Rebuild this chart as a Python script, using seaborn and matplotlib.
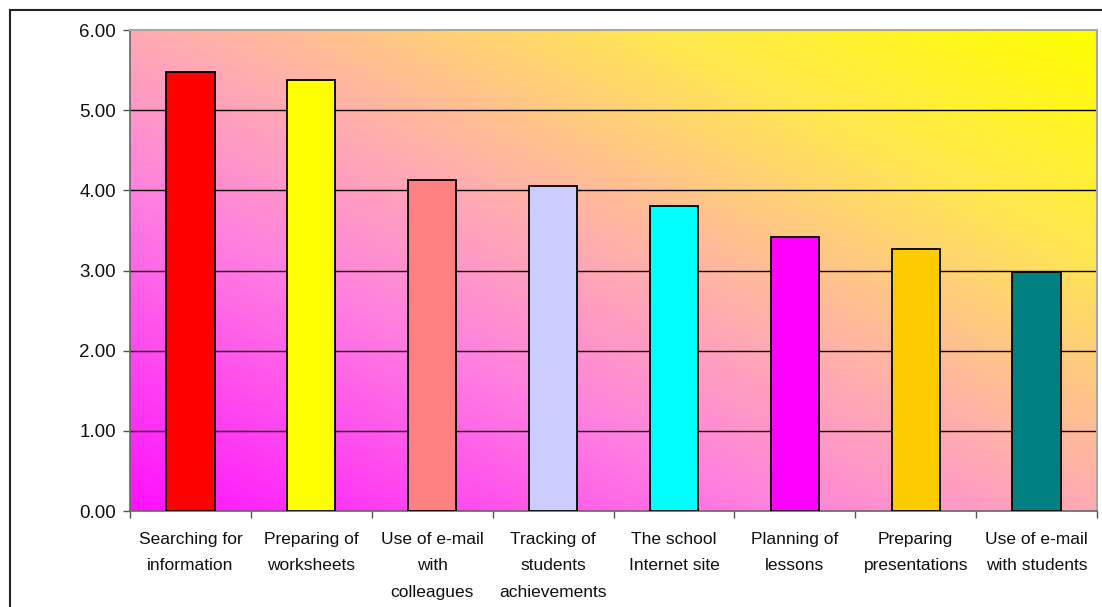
import numpy as np
import matplotlib
matplotlib.use('Agg')
import matplotlib.pyplot as plt
import seaborn as sns
from matplotlib.colors import LinearSegmentedColormap
from matplotlib.patches import Rectangle

sns.set_theme(style="white")
plt.rcParams['font.family'] = ['Liberation Sans', 'DejaVu Sans']

# data
categorias = [
    "Searching for\ninformation",
    "Preparing of\nworksheets",
    "Use of e-mail\nwith\ncolleagues",
    "Tracking of\nstudents\nachievements",
    "The school\nInternet site",
    "Planning of\nlessons",
    "Preparing\npresentations",
    "Use of e-mail\nwith students",
]
valores = [5.47, 5.38, 4.13, 4.06, 3.80, 3.42, 3.27, 2.98]
cores = ["#FF0000", "#FFFF00", "#FF8080", "#CCCCFF",
         "#00FFFF", "#FF00FF", "#FFCC00", "#008080"]
y_ticks = [0, 1, 2, 3, 4, 5, 6]

fig = plt.figure(figsize=(11.02, 6.07), dpi=100)
fig.patch.set_facecolor("white")
ax = fig.add_axes([130 / 1102, 96 / 607, 967 / 1102, 481 / 607])

# fundo em degradê diagonal (magenta -> rosa -> amarelo)
fundo = LinearSegmentedColormap.from_list(
    "fundo",
    [(0.0, "#FF10FF"), (0.33, "#FF80E0"), (0.5, "#FFAAB4"),
     (0.77, "#FFE850"), (1.0, "#FFFF00")])
u = np.linspace(0, 1, 400)
gx, gy = np.meshgrid(u, u)
ax.imshow((gx + gy) / 2, extent=[0, 1, 0, 1], transform=ax.transAxes,
          origin="lower", aspect="auto", cmap=fundo, vmin=0, vmax=1, zorder=0)

sns.barplot(x=categorias, y=valores, hue=categorias, palette=cores,
            saturation=1, width=0.4, edgecolor="black", linewidth=1.3,
            legend=False, ax=ax, zorder=3)

ax.set_xlim(-0.5, len(categorias) - 0.5)
ax.set_ylim(0, 6)
ax.set_yticks(y_ticks)
ax.set_yticklabels([f"{v:.2f}" for v in y_ticks])
for v in y_ticks[1:-1]:
    ax.axhline(v, color="black", linewidth=1.0, zorder=2)

ax.set_xticks(range(len(categorias)))
ax.set_xticklabels(categorias, linespacing=1.95, va="top")
ax.set_xticks(np.arange(-0.5, len(categorias), 1), minor=True)
ax.tick_params(axis="x", which="major", length=0, pad=15, labelsize=12.5, colors="#111111")
ax.tick_params(axis="x", which="minor", length=5, width=1, color="#555555", direction="out", bottom=True)
ax.tick_params(axis="y", length=5, width=1, color="#555555", direction="out", left=True,
               labelsize=13.5, pad=5, labelcolor="#111111")
ax.set_xlabel("")
ax.set_ylabel("")

for lado in ["left", "bottom"]:
    ax.spines[lado].set_color("#666666")
    ax.spines[lado].set_linewidth(1.2)
for lado in ["top", "right"]:
    ax.spines[lado].set_color("#A8A8A0")
    ax.spines[lado].set_linewidth(1.5)

# moldura externa do gráfico (só esquerda e topo aparecem)
fig.patches.append(Rectangle((10 / 1102, -0.2), 1.2, 1.2 - 10 / 607,
                             transform=fig.transFigure, fill=False,
                             edgecolor="#222222", linewidth=1.5))

plt.savefig("out.png", dpi=100)
plt.close()
